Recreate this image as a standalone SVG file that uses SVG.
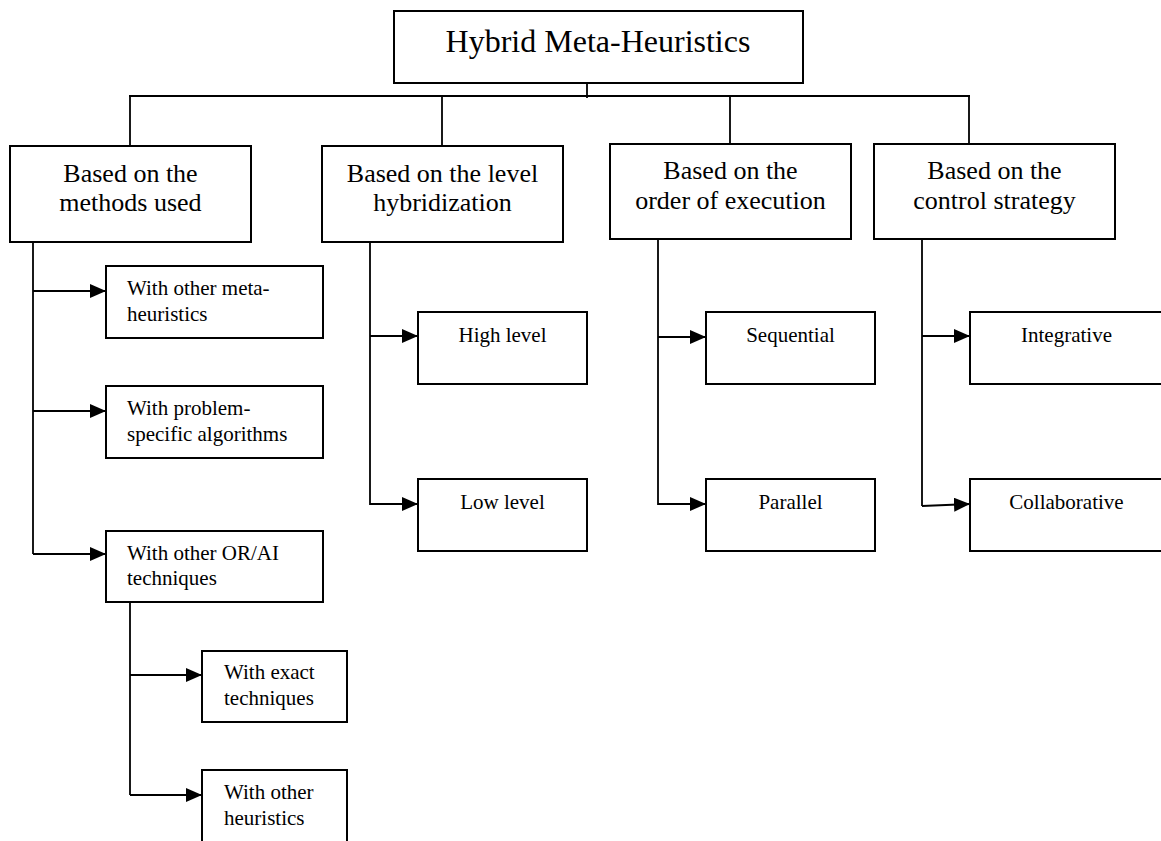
<svg xmlns="http://www.w3.org/2000/svg" width="1161" height="841" viewBox="0 0 1161 841">
<style>
.box{fill:#fff;stroke:#000;stroke-width:2}
.ln{fill:none;stroke:#000;stroke-width:1.8}
.t{font-family:"Liberation Serif","Times New Roman",serif;fill:#000}
.t32{font-size:32px}
.t26{font-size:26px}
.t21{font-size:21px}
.c{text-anchor:middle}
</style>
<defs>
<marker id="ah" markerWidth="16" markerHeight="14" refX="16" refY="7" orient="auto" markerUnits="userSpaceOnUse">
<path d="M0,0 L16,7 L0,14 z" fill="#000"/>
</marker>
</defs>
<rect width="1161" height="841" fill="#fff"/>
<g id="connectors">
<path class="ln" d="M587,83 V98"/>
<path class="ln" d="M129,96 H970"/>
<path class="ln" d="M130,96 V146"/>
<path class="ln" d="M442,96 V146"/>
<path class="ln" d="M730,96 V144"/>
<path class="ln" d="M969,96 V144"/>
<path class="ln" d="M33,242 V554"/>
<path class="ln" d="M33,291 H106" marker-end="url(#ah)"/>
<path class="ln" d="M33,411 H106" marker-end="url(#ah)"/>
<path class="ln" d="M33,554 H106" marker-end="url(#ah)"/>
<path class="ln" d="M130,602 V795"/>
<path class="ln" d="M130,675 H202" marker-end="url(#ah)"/>
<path class="ln" d="M130,795 H202" marker-end="url(#ah)"/>
<path class="ln" d="M370,242 V505"/>
<path class="ln" d="M370,336 H418" marker-end="url(#ah)"/>
<path class="ln" d="M370,504 H418" marker-end="url(#ah)"/>
<path class="ln" d="M658,239 V505"/>
<path class="ln" d="M658,337 H706" marker-end="url(#ah)"/>
<path class="ln" d="M658,504 H706" marker-end="url(#ah)"/>
<path class="ln" d="M922,239 V506"/>
<path class="ln" d="M922,336 H970" marker-end="url(#ah)"/>
<path class="ln" d="M922,506 L970,504" marker-end="url(#ah)"/>
</g>
<g id="root">
<rect class="box" x="394" y="11" width="409" height="72"/>
<text class="t t32 c" x="598" y="52">Hybrid Meta-Heuristics</text>
</g>
<g id="methods">
<rect class="box" x="10" y="146" width="241" height="96"/>
<text class="t t26 c" x="130.5" y="182">Based on the</text>
<text class="t t26 c" x="130.5" y="211">methods used</text>
</g>
<g id="level">
<rect class="box" x="322" y="146" width="241" height="96"/>
<text class="t t26 c" x="442.5" y="182">Based on the level</text>
<text class="t t26 c" x="442.5" y="211">hybridization</text>
</g>
<g id="order">
<rect class="box" x="610" y="144" width="241" height="95"/>
<text class="t t26 c" x="730.5" y="179">Based on the</text>
<text class="t t26 c" x="730.5" y="209">order of execution</text>
</g>
<g id="control">
<rect class="box" x="874" y="144" width="241" height="95"/>
<text class="t t26 c" x="994.5" y="179">Based on the</text>
<text class="t t26 c" x="994.5" y="209">control strategy</text>
</g>
<g id="meta">
<rect class="box" x="106" y="266" width="217" height="72"/>
<text class="t t21" x="127" y="295">With other meta-</text>
<text class="t t21" x="127" y="321">heuristics</text>
</g>
<g id="problem">
<rect class="box" x="106" y="386" width="217" height="72"/>
<text class="t t21" x="127" y="415">With problem-</text>
<text class="t t21" x="127" y="441">specific algorithms</text>
</g>
<g id="orai">
<rect class="box" x="106" y="531" width="217" height="71"/>
<text class="t t21" x="127" y="560">With other OR/AI</text>
<text class="t t21" x="127" y="585">techniques</text>
</g>
<g id="exact">
<rect class="box" x="202" y="651" width="145" height="71"/>
<text class="t t21" x="224" y="679">With exact</text>
<text class="t t21" x="224" y="705">techniques</text>
</g>
<g id="otherheur">
<rect class="box" x="202" y="770" width="145" height="90"/>
<text class="t t21" x="224" y="799">With other</text>
<text class="t t21" x="224" y="825">heuristics</text>
</g>
<g id="high">
<rect class="box" x="418" y="312" width="169" height="72"/>
<text class="t t21 c" x="502.5" y="342">High level</text>
</g>
<g id="low">
<rect class="box" x="418" y="479" width="169" height="72"/>
<text class="t t21 c" x="502.5" y="509">Low level</text>
</g>
<g id="sequential">
<rect class="box" x="706" y="312" width="169" height="72"/>
<text class="t t21 c" x="790.5" y="342">Sequential</text>
</g>
<g id="parallel">
<rect class="box" x="706" y="479" width="169" height="72"/>
<text class="t t21 c" x="790.5" y="509">Parallel</text>
</g>
<g id="integrative">
<rect class="box" x="970" y="312" width="200" height="72"/>
<text class="t t21 c" x="1066.5" y="342">Integrative</text>
</g>
<g id="collaborative">
<rect class="box" x="970" y="479" width="200" height="72"/>
<text class="t t21 c" x="1066.5" y="509">Collaborative</text>
</g>
</svg>
